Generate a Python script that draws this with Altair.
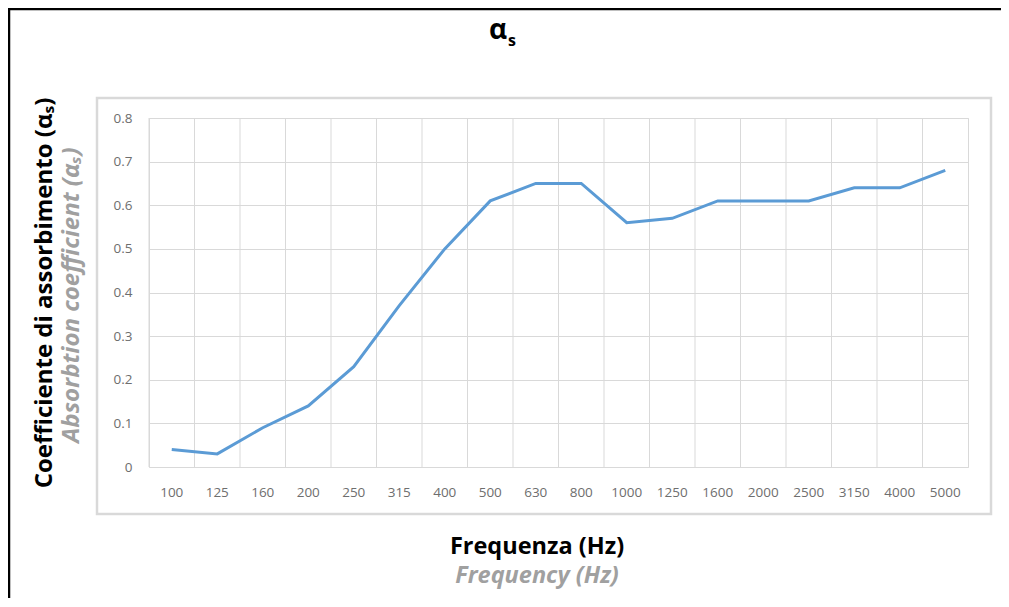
import altair as alt
import pandas as pd

freqs = ["100", "125", "160", "200", "250", "315", "400", "500", "630", "800",
         "1000", "1250", "1600", "2000", "2500", "3150", "4000", "5000"]
alpha_s = [0.04, 0.03, 0.09, 0.14, 0.23, 0.37, 0.50, 0.61, 0.65, 0.65,
           0.56, 0.57, 0.61, 0.61, 0.61, 0.64, 0.64, 0.68]
y_ticks = [0, 0.1, 0.2, 0.3, 0.4, 0.5, 0.6, 0.7, 0.8]

title_main = "α"
title_sub = "s"
y_title_it = "Coefficiente di assorbimento (αₛ)"
y_title_en = "Absorbtion coefficient (αₛ)"
x_title_it = "Frequenza (Hz)"
x_title_en = "Frequency (Hz)"

df = pd.DataFrame({"freq": freqs, "alpha": alpha_s})
one = pd.DataFrame({"k": [0]})

W, H = 819, 349
GRID = "#d9d9d9"
FONT = "Open Sans"
LABEL = "#6e6e6e"

x_scale = alt.Scale(paddingInner=0, paddingOuter=0)
x_axis = alt.Axis(labelAngle=0, ticks=False, domain=False, grid=False,
                  labelPadding=18, labelFont=FONT, labelFontSize=13.5,
                  labelColor=LABEL)

grid_v = alt.Chart(df).mark_rule(color=GRID, strokeWidth=1).encode(
    x=alt.X("freq:N", sort=freqs, bandPosition=0, title=None, scale=x_scale, axis=x_axis)
)

line = alt.Chart(df).mark_line(color="#5b9bd5", strokeWidth=3).encode(
    x=alt.X("freq:N", sort=freqs, title=None, scale=x_scale, axis=x_axis),
    y=alt.Y("alpha:Q", title=None, scale=alt.Scale(domain=[0, 0.8], nice=False),
            axis=alt.Axis(values=y_ticks, format=".1~f", ticks=False, domain=False,
                          grid=True, gridColor=GRID, labelPadding=17,
                          labelFont=FONT, labelFontSize=13.5, labelColor=LABEL)),
)

outer = alt.Chart(one).mark_rect(fill="transparent", stroke="black", strokeWidth=2.5).encode(
    x=alt.value(-140), x2=alt.value(900), y=alt.value(-109), y2=alt.value(520)
)
inner = alt.Chart(one).mark_rect(fill="transparent", stroke=GRID, strokeWidth=2.5).encode(
    x=alt.value(-52), x2=alt.value(842), y=alt.value(-20), y2=alt.value(396)
)

def txt(text, x, y, size, color="black", weight="bold", style="normal", angle=0,
        align="center", baseline="middle"):
    kw = dict(text=text, fontSize=size, color=color, fontWeight=weight,
              fontStyle=style, font=FONT, align=align, baseline=baseline)
    if angle:
        kw["angle"] = angle
    return alt.Chart(one).mark_text(**kw).encode(x=alt.value(x), y=alt.value(y))

t_alpha = txt(title_main, 349, -79, 28, align="center", baseline="alphabetic")
t_sub = txt(title_sub, 359, -72, 16, align="left", baseline="alphabetic")
t_y1 = txt(y_title_it, -104, 175, 24, angle=270)
t_y2 = txt(y_title_en, -77, 177, 24, color="#a0a0a0", style="italic", angle=270)
t_x1 = txt(x_title_it, 388, 429, 23.5)
t_x2 = txt(x_title_en, 388, 458, 23.5, color="#a0a0a0", style="italic")

chart = alt.layer(outer, inner, grid_v, line, t_alpha, t_sub, t_y1, t_y2, t_x1, t_x2).properties(
    width=W, height=H,
    autosize=alt.AutoSizeParams(type="none"),
    padding={"left": 141, "top": 110, "right": 33, "bottom": 131},
    background="white",
).configure_view(stroke=GRID, strokeWidth=1)

chart.save("out.html", embed_options={"renderer": "svg", "actions": False})
